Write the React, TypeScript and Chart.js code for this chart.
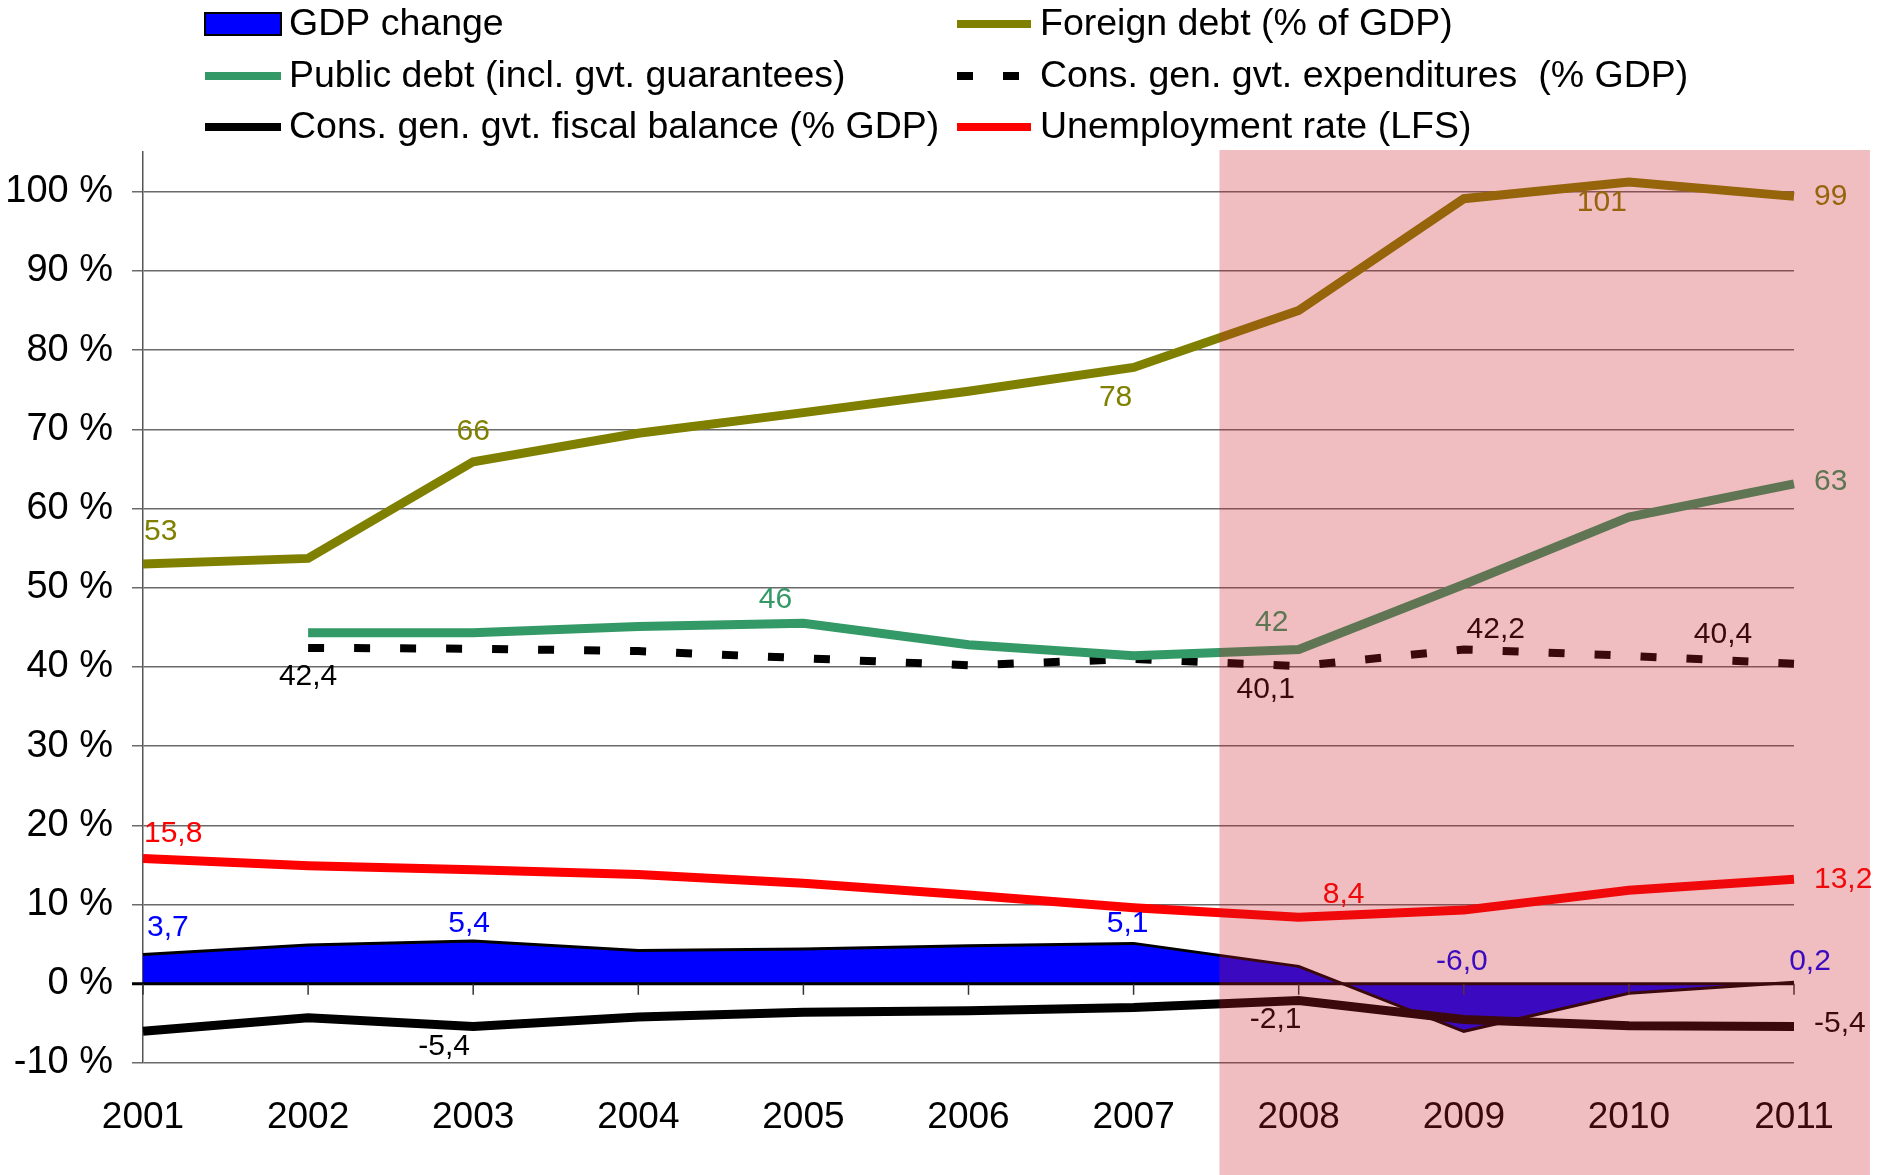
import React, { useEffect, useRef } from "react";
import { Chart, registerables } from "chart.js";

Chart.register(...registerables);

// ---- Data ----
const years = ["2001", "2002", "2003", "2004", "2005", "2006", "2007", "2008", "2009", "2010", "2011"];
const gdpChange = [3.7, 4.9, 5.4, 4.2, 4.4, 4.8, 5.1, 2.2, -6.0, -1.2, 0.2];
const foreignDebt = [53.0, 53.7, 65.9, 69.5, 72.1, 74.8, 77.8, 85.0, 99.1, 101.2, 99.4];
const publicDebt = [null, 44.3, 44.3, 45.1, 45.5, 42.8, 41.4, 42.2, 50.4, 58.9, 63.1];
const govExpenditures = [null, 42.4, 42.3, 42.0, 41.1, 40.2, 41.0, 40.1, 42.2, 41.4, 40.4];
const fiscalBalance = [-6.0, -4.3, -5.4, -4.2, -3.6, -3.4, -3.0, -2.1, -4.5, -5.3, -5.4];
const unemployment = [15.8, 14.9, 14.4, 13.8, 12.7, 11.2, 9.6, 8.4, 9.3, 11.8, 13.2];

const yMin = -10;
const yMax = 105;
const yTicks = [-10, 0, 10, 20, 30, 40, 50, 60, 70, 80, 90, 100];

// crisis shading (category index range)
const shadeFrom = 6.52;
const shadeTo = 10.46;

// ---- Styles ----
const FONT = "'Liberation Sans', Arial, sans-serif";
const C_GDP = "#0000FF";
const C_FOREIGN = "#808000";
const C_PUBLIC = "#339966";
const C_EXP = "#000000";
const C_FISCAL = "#000000";
const C_UNEMP = "#FF0000";

// data label spec: dataset index, point index, dx, dy, align, decimals
type Lbl = { ds: number; i: number; dx: number; dy: number; align: CanvasTextAlign; dec: number };
const labelSpec: Lbl[] = [
  // foreign debt (ds 0)
  { ds: 0, i: 0, dx: 1, dy: -32, align: "left", dec: 0 },
  { ds: 0, i: 2, dx: 0, dy: -30, align: "center", dec: 0 },
  { ds: 0, i: 6, dx: -18, dy: 30, align: "center", dec: 0 },
  { ds: 0, i: 9, dx: -27, dy: 21, align: "center", dec: 0 },
  { ds: 0, i: 10, dx: 20, dy: 0, align: "left", dec: 0 },
  // public debt (ds 1)
  { ds: 1, i: 4, dx: -28, dy: -24, align: "center", dec: 0 },
  { ds: 1, i: 7, dx: -27, dy: -27, align: "center", dec: 0 },
  { ds: 1, i: 10, dx: 20, dy: -2, align: "left", dec: 0 },
  // expenditures (ds 2)
  { ds: 2, i: 1, dx: 0, dy: 29, align: "center", dec: 1 },
  { ds: 2, i: 7, dx: -33, dy: 24, align: "center", dec: 1 },
  { ds: 2, i: 8, dx: 32, dy: -20, align: "center", dec: 1 },
  { ds: 2, i: 10, dx: -71, dy: -29, align: "center", dec: 1 },
  // unemployment (ds 3)
  { ds: 3, i: 0, dx: 1, dy: -25, align: "left", dec: 1 },
  { ds: 3, i: 7, dx: 45, dy: -23, align: "center", dec: 1 },
  { ds: 3, i: 10, dx: 20, dy: 1, align: "left", dec: 1 },
  // fiscal balance (ds 4)
  { ds: 4, i: 2, dx: -29, dy: 20, align: "center", dec: 1 },
  { ds: 4, i: 7, dx: -23, dy: 19, align: "center", dec: 1 },
  { ds: 4, i: 10, dx: 20, dy: -3, align: "left", dec: 1 },
  // gdp (ds 5)
  { ds: 5, i: 0, dx: 4, dy: -27, align: "left", dec: 1 },
  { ds: 5, i: 2, dx: -4, dy: -17, align: "center", dec: 1 },
  { ds: 5, i: 6, dx: -6, dy: -20, align: "center", dec: 1 },
  { ds: 5, i: 8, dx: -2, dy: -70, align: "center", dec: 1 },
  { ds: 5, i: 10, dx: 16, dy: -20, align: "center", dec: 1 },
];

type LegendItem = { text: string; kind: "rect" | "line" | "dash"; color: string };
const legendCol1: LegendItem[] = [
  { text: "GDP change", kind: "rect", color: C_GDP },
  { text: "Public debt (incl. gvt. guarantees)", kind: "line", color: C_PUBLIC },
  { text: "Cons. gen. gvt. fiscal balance (% GDP)", kind: "line", color: C_FISCAL },
];
const legendCol2: LegendItem[] = [
  { text: "Foreign debt (% of GDP)", kind: "line", color: C_FOREIGN },
  { text: "Cons. gen. gvt. expenditures  (% GDP)", kind: "dash", color: C_EXP },
  { text: "Unemployment rate (LFS)", kind: "line", color: C_UNEMP },
];

const fmt = (v: number, dec: number) => (dec === 0 ? String(Math.round(v)) : v.toFixed(dec).replace(".", ","));

const decorPlugin = {
  id: "decor",
  afterDatasetsDraw(chart: any) {
    const ctx = chart.ctx as CanvasRenderingContext2D;
    const xs = chart.scales.x;
    const ys = chart.scales.y;
    const area = chart.chartArea;
    const y0 = ys.getPixelForValue(0);
    ctx.save();
    // zero axis line
    ctx.strokeStyle = "#000";
    ctx.lineWidth = 3;
    ctx.beginPath();
    ctx.moveTo(area.left - 11, y0);
    ctx.lineTo(area.right, y0);
    ctx.stroke();
    // category ticks
    ctx.lineWidth = 1.5;
    ctx.strokeStyle = "#333";
    for (let i = 0; i < years.length; i++) {
      const x = xs.getPixelForValue(i);
      ctx.beginPath();
      ctx.moveTo(x, y0);
      ctx.lineTo(x, y0 + 11);
      ctx.stroke();
    }
    // data labels
    ctx.font = `30px ${FONT}`;
    ctx.textBaseline = "middle";
    for (const l of labelSpec) {
      const ds = chart.data.datasets[l.ds];
      const v = ds.data[l.i];
      if (v == null) continue;
      const x = xs.getPixelForValue(l.i);
      const y = ys.getPixelForValue(v);
      ctx.fillStyle = ds.labelColor;
      ctx.textAlign = l.align;
      ctx.fillText(fmt(v, l.dec), x + l.dx, y + l.dy);
    }
    ctx.restore();
  },
  afterDraw(chart: any) {
    const ctx = chart.ctx as CanvasRenderingContext2D;
    const xs = chart.scales.x;
    const area = chart.chartArea;
    ctx.save();
    // legend
    const rows = [25, 77, 128];
    const cols = [
      { items: legendCol1, sx: 205, ex: 281, tx: 289 },
      { items: legendCol2, sx: 957, ex: 1031, tx: 1040 },
    ];
    ctx.font = `37.5px ${FONT}`;
    ctx.textBaseline = "middle";
    ctx.textAlign = "left";
    for (const col of cols) {
      col.items.forEach((it, r) => {
        const cy = rows[r];
        const sy = cy - 1;
        if (it.kind === "rect") {
          ctx.fillStyle = it.color;
          ctx.fillRect(col.sx, sy - 11, col.ex - col.sx, 22);
          ctx.strokeStyle = "#000";
          ctx.lineWidth = 2;
          ctx.strokeRect(col.sx, sy - 11, col.ex - col.sx, 22);
        } else if (it.kind === "line") {
          ctx.strokeStyle = it.color;
          ctx.lineWidth = 8;
          ctx.setLineDash([]);
          ctx.beginPath();
          ctx.moveTo(col.sx, sy);
          ctx.lineTo(col.ex, sy);
          ctx.stroke();
        } else {
          ctx.fillStyle = it.color;
          ctx.fillRect(col.sx, sy - 4, 16, 8);
          ctx.fillRect(col.sx + 46, sy - 4, 16, 8);
        }
        ctx.fillStyle = "#000";
        ctx.fillText(it.text, col.tx, cy);
      });
    }
    // crisis shading overlay
    const x1 = xs.getPixelForValue(shadeFrom);
    const x2 = xs.getPixelForValue(shadeTo);
    ctx.fillStyle = "rgba(203,31,38,0.29)";
    ctx.fillRect(x1, area.top - 2, x2 - x1, chart.height - area.top + 2);
    ctx.restore();
  },
};

export default function App() {
  const ref = useRef<HTMLCanvasElement | null>(null);
  useEffect(() => {
    if (!ref.current) return;
    const lineCommon = {
      pointRadius: 0,
      pointHoverRadius: 0,
      tension: 0,
      borderWidth: 9,
      borderCapStyle: "butt" as const,
      borderJoinStyle: "miter" as const,
      fill: false,
    };
    const chart = new Chart(ref.current, {
      type: "line",
      data: {
        labels: years,
        datasets: [
          { ...lineCommon, label: "Foreign debt (% of GDP)", data: foreignDebt, borderColor: C_FOREIGN, labelColor: C_FOREIGN, order: 1 } as any,
          { ...lineCommon, label: "Public debt (incl. gvt. guarantees)", data: publicDebt, borderColor: C_PUBLIC, labelColor: C_PUBLIC, order: 2 } as any,
          { ...lineCommon, label: "Cons. gen. gvt. expenditures (% GDP)", data: govExpenditures, borderColor: C_EXP, labelColor: "#000", borderWidth: 8, borderDash: [16, 30], order: 3 } as any,
          { ...lineCommon, label: "Unemployment rate (LFS)", data: unemployment, borderColor: C_UNEMP, labelColor: C_UNEMP, order: 4 } as any,
          { ...lineCommon, label: "Cons. gen. gvt. fiscal balance (% GDP)", data: fiscalBalance, borderColor: C_FISCAL, labelColor: "#000", order: 5 } as any,
          { ...lineCommon, label: "GDP change", data: gdpChange, borderColor: "#000", borderWidth: 3, backgroundColor: C_GDP, fill: "origin", labelColor: C_GDP, order: 6 } as any,
        ],
      },
      options: {
        animation: false,
        responsive: false,
        devicePixelRatio: 1,
        events: [],
        layout: { padding: { top: 152, right: 92, left: 0, bottom: 0 } },
        plugins: { legend: { display: false }, tooltip: { enabled: false }, title: { display: false } },
        scales: {
          x: {
            type: "category",
            offset: false,
            grid: { display: false, drawTicks: false },
            border: { display: false },
            ticks: { color: "#000", font: { family: FONT, size: 37 }, padding: 33, maxRotation: 0, autoSkip: false },
            afterFit: (s: any) => { s.height = 112; },
          },
          y: {
            type: "linear",
            min: yMin,
            max: yMax,
            grid: {
              color: (c: any) => (c.tick && c.tick.value === 0 ? "rgba(0,0,0,0)" : "#6a6a6a"),
              lineWidth: 1.5,
              tickLength: 11,
              drawTicks: true,
            },
            border: { display: true, color: "#555", width: 1.5 },
            ticks: {
              color: "#000",
              font: { family: FONT, size: 38 },
              padding: 19,
              callback: (v: any) => `${v} %`,
            },
            afterBuildTicks: (s: any) => { s.ticks = yTicks.map((v) => ({ value: v })); },
            afterFit: (s: any) => { s.width = 143; },
          },
        },
      },
      plugins: [decorPlugin],
    });
    return () => chart.destroy();
  }, []);
  return (
    <div style={{ position: "absolute", left: 0, top: 0, width: 1886, height: 1175, background: "#fff" }}>
      <canvas ref={ref} width={1886} height={1175} style={{ display: "block", width: 1886, height: 1175 }} />
    </div>
  );
}
